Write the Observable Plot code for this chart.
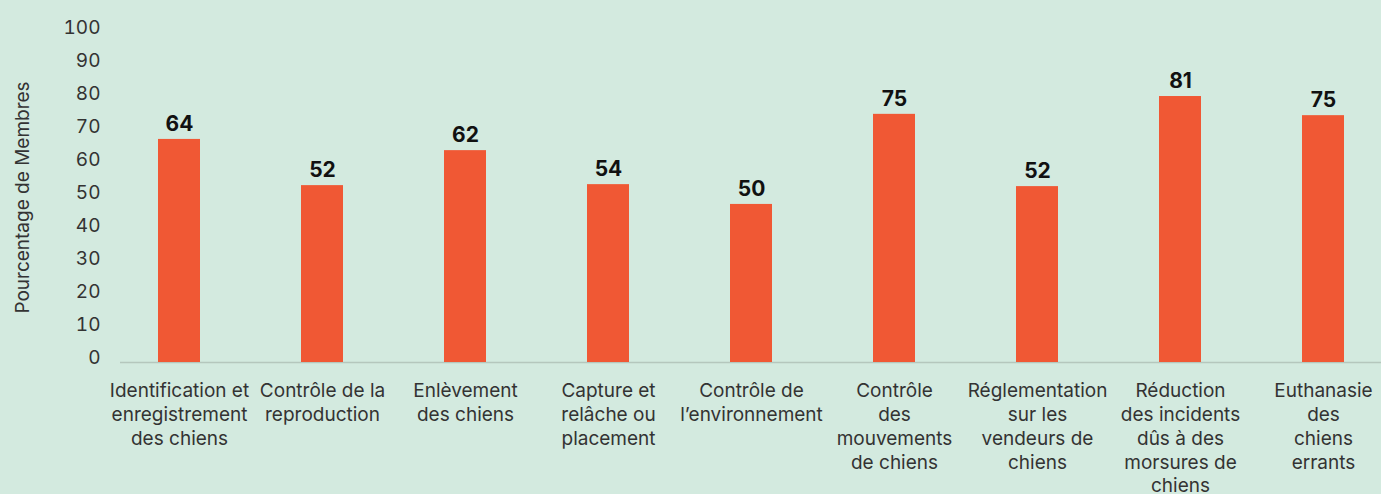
<!DOCTYPE html>
<html><head><meta charset="utf-8">
<script src="https://cdn.jsdelivr.net/npm/d3@7"></script>
<script src="https://cdn.jsdelivr.net/npm/@observablehq/plot@0.6"></script>
<style>html,body{margin:0;padding:0;background:#d3eadf;overflow:hidden;}</style>
</head><body><div id="chart"></div>
<script>
const categories = [
  "Identification et\nenregistrement\ndes chiens",
  "Contrôle de la\nreproduction",
  "Enlèvement\ndes chiens",
  "Capture et\nrelâche ou\nplacement",
  "Contrôle de\nl’environnement",
  "Contrôle\ndes\nmouvements\nde chiens",
  "Réglementation\nsur les\nvendeurs de\nchiens",
  "Réduction\ndes incidents\ndûs à des\nmorsures de\nchiens",
  "Euthanasie\ndes\nchiens\nerrants"
];
const valueLabels = [64, 52, 62, 54, 50, 75, 52, 81, 75];
const barHeights = [67.6, 53.6, 64.2, 53.9, 47.9, 75.2, 53.3, 80.6, 74.8];
const yTicks = [0, 10, 20, 30, 40, 50, 60, 70, 80, 90, 100];
const yTitle = "Pourcentage de Membres";

const data = categories.map((c, i) => ({category: c, label: valueLabels[i], height: barHeights[i]}));

const chart = Plot.plot({
  width: 1381, height: 494,
  marginTop: 32, marginBottom: 132, marginLeft: 120, marginRight: 0,
  style: {fontFamily: "Inter, 'Liberation Sans', sans-serif", fontSize: "19px", background: "#d3eadf", color: "#333"},
  x: {domain: categories, range: [105.25, 1396.75], paddingInner: 0.707, paddingOuter: 0.3535, label: null},
  y: {domain: [0, 100]},
  marks: [
    Plot.ruleY([0], {stroke: "#b5c7bd", strokeWidth: 1.5}),
    Plot.barY(data, {x: "category", y: "height", fill: "#f05834"}),
    Plot.text(data, {x: "category", y: "height", text: d => String(d.label), dy: -15, fontWeight: "bold", fill: "#111", fontSize: 21}),
    Plot.axisX({tickSize: 0, tickPadding: 18, lineHeight: 1.25, fill: "#333", label: null}),
    Plot.axisY({ticks: yTicks, tickSize: 0, tickPadding: 20, dy: -5, fill: "#333", label: yTitle, labelAnchor: "center", labelArrow: "none", labelOffset: 105})
  ]
});
document.getElementById("chart").appendChild(chart);
</script>
</body></html>
